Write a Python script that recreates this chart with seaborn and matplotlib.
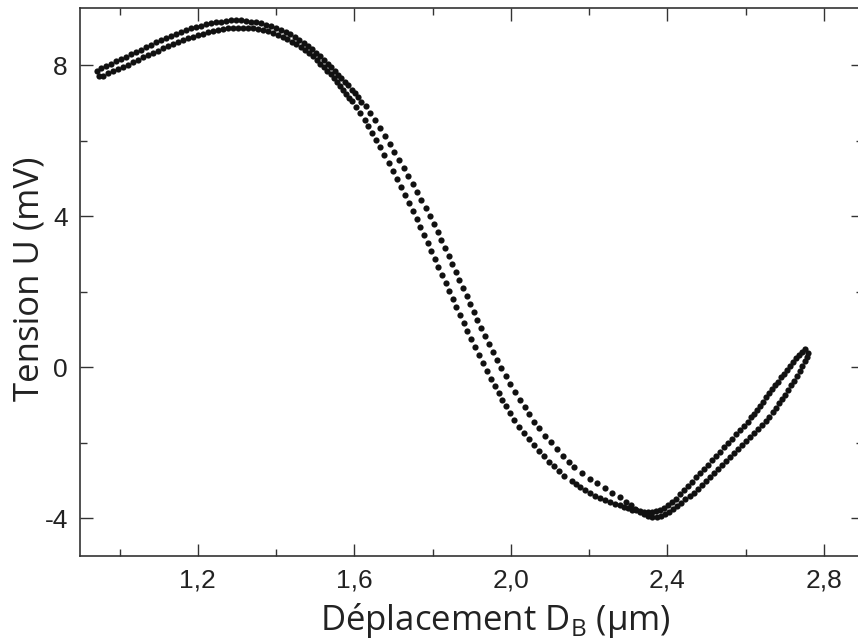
import matplotlib
matplotlib.use("Agg")
import matplotlib.pyplot as plt
import pandas as pd
import seaborn as sns
from matplotlib.ticker import MultipleLocator

# branche 1 (bord gauche -> sommet -> descente droite -> minimum -> pointe droite)
x_aller = [0.942, 0.952, 0.965, 0.978, 0.990, 1.003, 1.016, 1.029, 1.042, 1.054,
           1.067, 1.080, 1.093, 1.105, 1.118, 1.131, 1.144, 1.157, 1.169, 1.182,
           1.195, 1.208, 1.220, 1.233, 1.246, 1.259, 1.272, 1.284, 1.297, 1.310,
           1.323, 1.335, 1.348, 1.361, 1.374, 1.387, 1.399, 1.412, 1.425, 1.436,
           1.448, 1.459, 1.471, 1.481, 1.491, 1.502, 1.512, 1.522, 1.532, 1.541,
           1.550, 1.559, 1.567, 1.576, 1.585, 1.594, 1.601, 1.609, 1.617,
           1.629, 1.641, 1.652, 1.665, 1.678, 1.690, 1.702, 1.714, 1.726, 1.737,
           1.749, 1.760, 1.771, 1.782, 1.793, 1.803, 1.813, 1.822, 1.832, 1.841,
           1.850, 1.859, 1.868, 1.878, 1.887, 1.896, 1.905, 1.914, 1.924, 1.934,
           1.944, 1.954, 1.964, 1.975, 1.987, 1.998, 2.011, 2.023, 2.035, 2.046,
           2.058, 2.073, 2.087, 2.103, 2.118, 2.134, 2.149, 2.161, 2.182, 2.202,
           2.220, 2.240, 2.259, 2.279, 2.294, 2.306, 2.318, 2.329, 2.340, 2.351,
           2.362, 2.373, 2.384, 2.394, 2.404, 2.414, 2.424, 2.435, 2.446, 2.457,
           2.468, 2.478, 2.488, 2.498, 2.509, 2.519, 2.529, 2.539, 2.550, 2.560,
           2.570, 2.580, 2.590, 2.601, 2.611, 2.621, 2.631, 2.642, 2.652, 2.661,
           2.670, 2.677, 2.685, 2.693, 2.700, 2.708, 2.716, 2.723, 2.731, 2.739,
           2.745, 2.751, 2.757, 2.759]
u_aller = [7.83, 7.92, 7.98, 8.04, 8.10, 8.16, 8.22, 8.28, 8.34, 8.41,
           8.47, 8.54, 8.60, 8.66, 8.72, 8.77, 8.83, 8.88, 8.93, 8.97,
           9.01, 9.04, 9.08, 9.11, 9.13, 9.15, 9.17, 9.18, 9.18, 9.18,
           9.17, 9.15, 9.13, 9.10, 9.07, 9.03, 8.98, 8.93, 8.87, 8.81,
           8.74, 8.67, 8.59, 8.51, 8.42, 8.33, 8.24, 8.14, 8.04, 7.94,
           7.84, 7.74, 7.66, 7.56, 7.46, 7.35, 7.25, 7.14, 7.03,
           6.91, 6.73, 6.54, 6.33, 6.12, 5.91, 5.69, 5.48, 5.27, 5.06,
           4.85, 4.63, 4.42, 4.21, 4.00, 3.79, 3.57, 3.36, 3.15, 2.94,
           2.73, 2.51, 2.30, 2.09, 1.88, 1.67, 1.45, 1.24, 1.03, 0.82,
           0.61, 0.39, 0.18, -0.03, -0.24, -0.45, -0.67, -0.88, -1.06, -1.25,
           -1.44, -1.62, -1.81, -1.99, -2.18, -2.36, -2.52, -2.65, -2.80, -2.95,
           -3.08, -3.21, -3.33, -3.45, -3.56, -3.66, -3.75, -3.83, -3.90, -3.95,
           -3.98, -3.98, -3.95, -3.90, -3.83, -3.75, -3.68, -3.59, -3.50, -3.41,
           -3.32, -3.22, -3.12, -3.02, -2.91, -2.81, -2.70, -2.59, -2.49, -2.38,
           -2.28, -2.17, -2.06, -1.96, -1.85, -1.75, -1.64, -1.53, -1.42, -1.31,
           -1.19, -1.08, -0.96, -0.84, -0.73, -0.60, -0.48, -0.36, -0.23, -0.10,
           0.02, 0.15, 0.27, 0.38]

# branche 2 (pointe droite -> remontée -> minimum -> descente gauche -> bord gauche)
x_retour = [2.751, 2.744, 2.736, 2.728, 2.721, 2.713, 2.705, 2.698, 2.690, 2.682,
            2.675, 2.667, 2.659, 2.652, 2.644, 2.636, 2.629, 2.621, 2.613, 2.606,
            2.596, 2.585, 2.575, 2.565, 2.555, 2.544, 2.534, 2.524, 2.514, 2.504,
            2.493, 2.483, 2.473, 2.463, 2.452, 2.442, 2.432, 2.422, 2.412, 2.401,
            2.391, 2.381, 2.371, 2.360, 2.350, 2.340, 2.330, 2.320, 2.309, 2.299,
            2.289, 2.279, 2.266, 2.253, 2.240, 2.228, 2.215, 2.202, 2.189, 2.178,
            2.166, 2.156,
            2.136, 2.123, 2.110, 2.097, 2.084, 2.072, 2.059, 2.046, 2.033, 2.022,
            2.009, 1.998, 1.988, 1.978, 1.969, 1.959, 1.949, 1.938, 1.928, 1.918,
            1.908, 1.898, 1.889, 1.880, 1.870, 1.861, 1.852, 1.843, 1.834, 1.824,
            1.815, 1.806, 1.797, 1.788, 1.778, 1.769, 1.760, 1.750, 1.740, 1.730,
            1.720, 1.710, 1.699, 1.688, 1.677, 1.666, 1.656, 1.646, 1.636, 1.627,
            1.615, 1.605, 1.595,
            1.586, 1.578, 1.571, 1.563, 1.555, 1.548, 1.540, 1.531, 1.522, 1.513,
            1.504, 1.494, 1.484, 1.474, 1.463, 1.452, 1.440, 1.429, 1.417, 1.404,
            1.392, 1.379, 1.366, 1.353, 1.341, 1.328, 1.315, 1.302, 1.289, 1.277,
            1.264, 1.251, 1.238, 1.226, 1.213, 1.200, 1.187, 1.174, 1.162, 1.149,
            1.136, 1.123, 1.111, 1.098, 1.085, 1.072, 1.059, 1.047, 1.034, 1.021,
            1.008, 0.996, 0.983, 0.970, 0.957, 0.947]
u_retour = [0.48, 0.41, 0.32, 0.23, 0.13, 0.03, -0.07, -0.17, -0.27, -0.38,
            -0.48, -0.59, -0.69, -0.80, -0.91, -1.02, -1.13, -1.23, -1.33, -1.44,
            -1.55, -1.67, -1.78, -1.89, -2.01, -2.12, -2.24, -2.35, -2.46, -2.58,
            -2.69, -2.81, -2.92, -3.03, -3.15, -3.26, -3.37, -3.48, -3.57, -3.66,
            -3.73, -3.78, -3.82, -3.84, -3.84, -3.83, -3.82, -3.79, -3.77, -3.74,
            -3.70, -3.66, -3.62, -3.57, -3.52, -3.46, -3.40, -3.33, -3.26, -3.18,
            -3.09, -3.01,
            -2.87, -2.75, -2.63, -2.50, -2.36, -2.22, -2.07, -1.91, -1.75, -1.59,
            -1.41, -1.22, -1.04, -0.88, -0.69, -0.51, -0.32, -0.11, 0.10, 0.31,
            0.53, 0.74, 0.95, 1.16, 1.37, 1.59, 1.80, 2.01, 2.22, 2.43,
            2.65, 2.86, 3.07, 3.28, 3.49, 3.71, 3.92, 4.13, 4.34, 4.55,
            4.77, 4.98, 5.19, 5.40, 5.61, 5.83, 6.01, 6.20, 6.38, 6.54,
            6.73, 6.89, 7.05,
            7.12, 7.23, 7.34, 7.45, 7.55, 7.65, 7.75, 7.85, 7.95, 8.04,
            8.13, 8.23, 8.32, 8.40, 8.48, 8.55, 8.62, 8.69, 8.74, 8.80,
            8.85, 8.89, 8.92, 8.95, 8.97, 8.98, 8.99, 8.99, 8.98, 8.97,
            8.95, 8.93, 8.90, 8.87, 8.83, 8.79, 8.75, 8.71, 8.66, 8.61,
            8.55, 8.50, 8.44, 8.38, 8.32, 8.26, 8.20, 8.14, 8.07, 8.01,
            7.95, 7.89, 7.84, 7.78, 7.72, 7.70]

x_ticks = [1.2, 1.6, 2.0, 2.4, 2.8]
x_tick_labels = ["1,2", "1,6", "2,0", "2,4", "2,8"]
y_ticks = [-4, 0, 4, 8]
y_tick_labels = ["-4", "0", "4", "8"]

data = pd.DataFrame({"D": x_aller + x_retour, "U": u_aller + u_retour})

sns.set_style("ticks")
plt.rcParams["font.family"] = ["Open Sans", "DejaVu Sans"]
plt.rcParams["mathtext.fontset"] = "custom"
plt.rcParams["mathtext.rm"] = "Open Sans"

fig = plt.figure(figsize=(8.58, 6.43), dpi=100)
ax = fig.add_axes([0.0937, 0.1353, 0.9121, 0.8517])

sns.scatterplot(data=data, x="D", y="U", color="#111111", s=20, linewidth=0, ax=ax)

ax.set_xlim(0.9, 2.9)
ax.set_ylim(-5, 9.5)

tick_font = ["Liberation Sans", "DejaVu Sans"]
ax.set_xticks(x_ticks)
ax.set_xticklabels(x_tick_labels, fontsize=19, family=tick_font, color="#222222")
ax.set_yticks(y_ticks)
ax.set_yticklabels(y_tick_labels, fontsize=19, family=tick_font, color="#222222")
ax.xaxis.set_minor_locator(MultipleLocator(0.2))
ax.yaxis.set_minor_locator(MultipleLocator(2))

ax.tick_params(which="both", direction="in", top=True, right=True,
               color="#333333", width=1.0)
ax.tick_params(which="major", length=9, pad=9)
ax.tick_params(which="minor", length=5)

for sp in ax.spines.values():
    sp.set_visible(True)
    sp.set_color("#333333")
    sp.set_linewidth(1.2)

ax.set_xlabel("Déplacement D$_{\\mathrm{B}}$ (µm)", fontsize=25, color="#222222")
ax.set_ylabel("Tension U (mV)", fontsize=25, color="#222222")
ax.xaxis.set_label_coords(0.53, -0.083)
ax.yaxis.set_label_coords(-0.043, 0.507)

fig.savefig("out.png", dpi=100)
